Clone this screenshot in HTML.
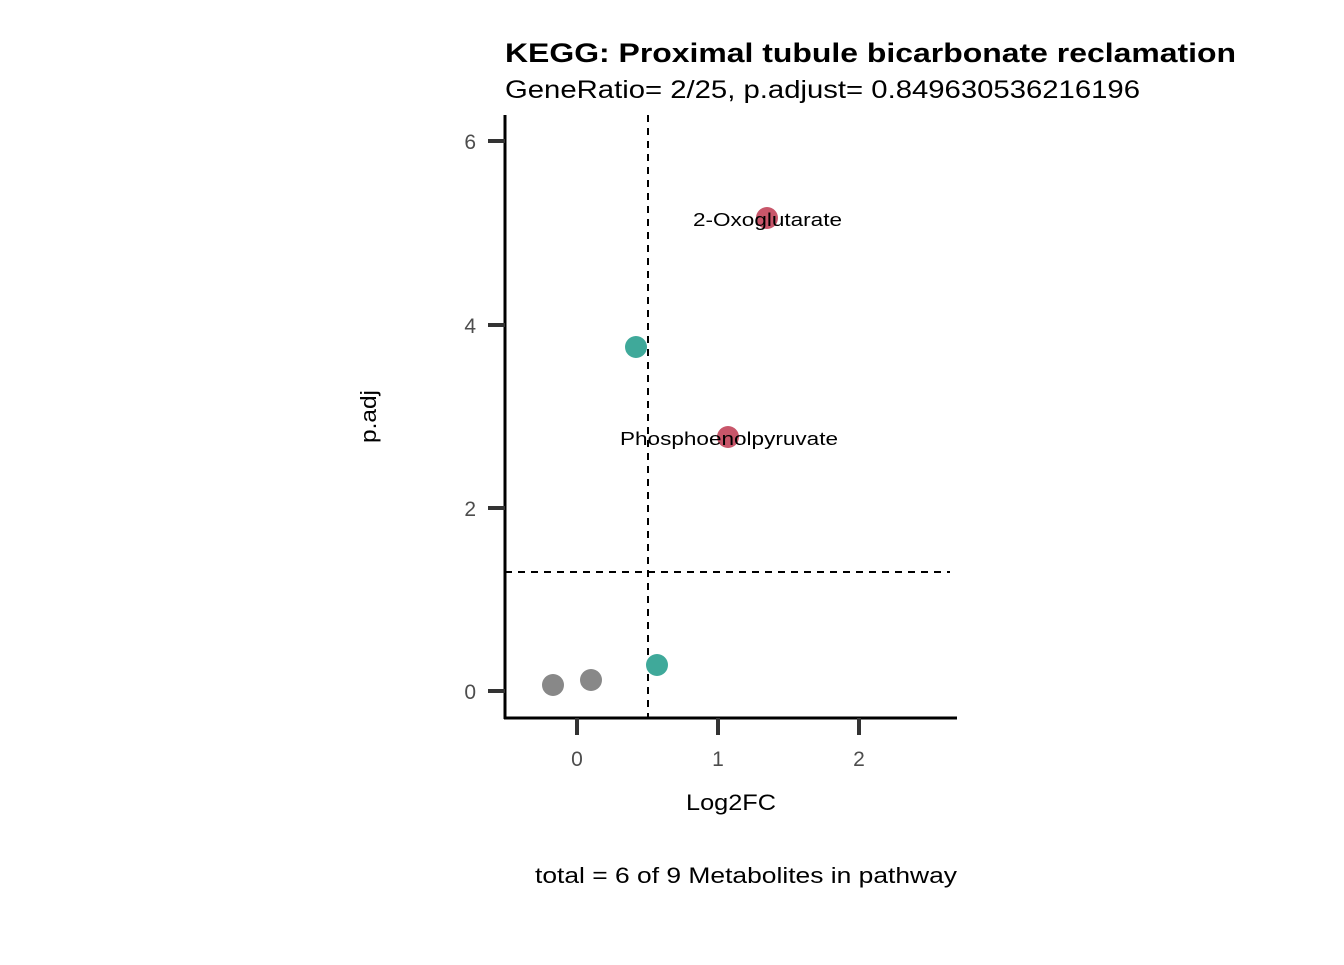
<!DOCTYPE html>
<html><head><style>body{margin:0;background:#fff}</style></head><body>
<svg width="1344" height="960" xmlns="http://www.w3.org/2000/svg" font-family="Liberation Sans, sans-serif">
<rect width="1344" height="960" fill="#fff"/>
<text x="505" y="62" font-size="27" font-weight="bold" fill="#000" textLength="731" lengthAdjust="spacingAndGlyphs">KEGG: Proximal tubule bicarbonate reclamation</text>
<text x="505" y="98" font-size="25" fill="#000" textLength="635" lengthAdjust="spacingAndGlyphs">GeneRatio= 2/25, p.adjust= 0.849630536216196</text>
<line x1="648" y1="115" x2="648" y2="718" stroke="#000" stroke-width="2" stroke-dasharray="7,6"/>
<line x1="505" y1="572" x2="950" y2="572" stroke="#000" stroke-width="2" stroke-dasharray="7,6"/>
<line x1="505" y1="115" x2="505" y2="719" stroke="#000" stroke-width="3"/>
<line x1="504" y1="718" x2="957" y2="718" stroke="#000" stroke-width="3"/>
<g stroke="#333" stroke-width="4">
<line x1="488" y1="691" x2="505" y2="691"/><line x1="488" y1="508" x2="505" y2="508"/>
<line x1="488" y1="325" x2="505" y2="325"/><line x1="488" y1="141" x2="505" y2="141"/>
<line x1="577" y1="718" x2="577" y2="735"/><line x1="718" y1="718" x2="718" y2="735"/><line x1="859" y1="718" x2="859" y2="735"/>
</g>
<g font-size="21" fill="#4d4d4d" text-anchor="end">
<text x="476" y="699">0</text><text x="476" y="516">2</text><text x="476" y="333">4</text><text x="476" y="149">6</text>
</g>
<g font-size="21" fill="#4d4d4d" text-anchor="middle">
<text x="577" y="766">0</text><text x="718" y="766">1</text><text x="859" y="766">2</text>
</g>
<text x="686" y="810" font-size="22" textLength="90" lengthAdjust="spacingAndGlyphs">Log2FC</text>
<text transform="translate(376,443) rotate(-90)" font-size="22" textLength="53" lengthAdjust="spacingAndGlyphs">p.adj</text>
<text x="535" y="883" font-size="22" textLength="422" lengthAdjust="spacingAndGlyphs">total = 6 of 9 Metabolites in pathway</text>
<circle cx="553" cy="685" r="11" fill="#888"/>
<circle cx="591" cy="680" r="11" fill="#888"/>
<circle cx="636" cy="347" r="11" fill="#3fa99a"/>
<circle cx="657" cy="665" r="11" fill="#3fa99a"/>
<circle cx="767" cy="218" r="11" fill="#c8566a"/>
<circle cx="728" cy="437" r="11" fill="#c8566a"/>
<text x="693" y="226" font-size="18" textLength="149" lengthAdjust="spacingAndGlyphs">2-Oxoglutarate</text>
<text x="620" y="445" font-size="18" textLength="218" lengthAdjust="spacingAndGlyphs">Phosphoenolpyruvate</text>
</svg>
</body></html>
